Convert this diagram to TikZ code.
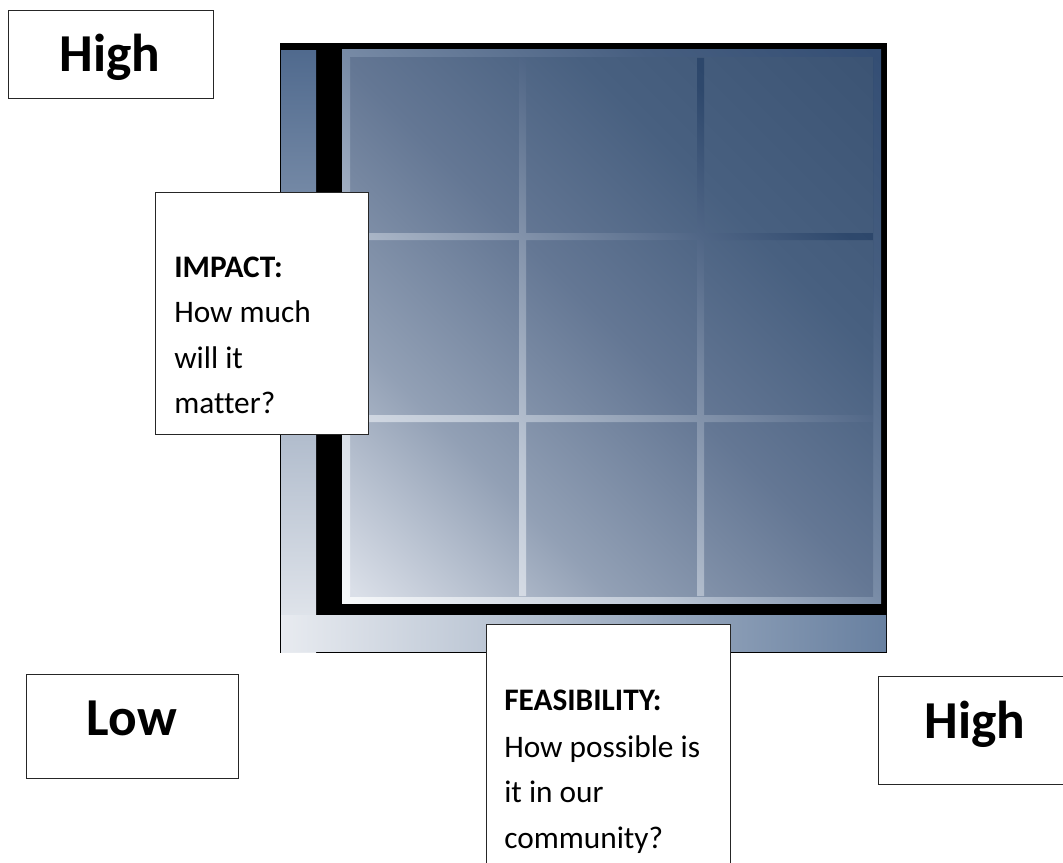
\documentclass[tikz,border=0pt]{standalone}
\usepackage{fontspec}
\setmainfont{Carlito}[Ligatures=NoCommon]
\usetikzlibrary{shadings}
\definecolor{stripTop}{RGB}{80,106,142}
\definecolor{stripLight}{RGB}{232,235,240}
\definecolor{stripRight}{RGB}{104,128,160}
\pgfdeclarehorizontalshading{tileshade}{100bp}{
  color(0bp)=(rgb,255:red,218;green,223;blue,232);
  color(15bp)=(rgb,255:red,218;green,223;blue,232);
  color(32bp)=(rgb,255:red,146;green,160;blue,181);
  color(50bp)=(rgb,255:red,100;green,119;blue,148);
  color(66bp)=(rgb,255:red,72;green,96;blue,128);
  color(85bp)=(rgb,255:red,60;green,84;blue,116);
  color(100bp)=(rgb,255:red,60;green,84;blue,116)}
\pgfdeclarehorizontalshading{bordershade}{100bp}{
  color(0bp)=(rgb,255:red,246;green,248;blue,250);
  color(15bp)=(rgb,255:red,246;green,248;blue,250);
  color(35bp)=(rgb,255:red,190;green,200;blue,214);
  color(50bp)=(rgb,255:red,120;green,139;blue,166);
  color(70bp)=(rgb,255:red,70;green,94;blue,128);
  color(85bp)=(rgb,255:red,52;green,78;blue,116);
  color(100bp)=(rgb,255:red,52;green,78;blue,116)}
\pgfdeclarehorizontalshading{gridshade}{100bp}{
  color(0bp)=(rgb,255:red,242;green,244;blue,248);
  color(15bp)=(rgb,255:red,242;green,244;blue,248);
  color(35bp)=(rgb,255:red,188;green,198;blue,212);
  color(50bp)=(rgb,255:red,130;green,146;blue,170);
  color(62bp)=(rgb,255:red,80;green,102;blue,134);
  color(72bp)=(rgb,255:red,46;green,72;blue,108);
  color(85bp)=(rgb,255:red,40;green,66;blue,102);
  color(100bp)=(rgb,255:red,40;green,66;blue,102)}
\begin{document}
\begin{tikzpicture}[x=0.75pt,y=-0.75pt,
  labelbox/.style={draw=black!85,line width=0.9pt,fill=white,inner sep=0pt,anchor=north west},
  bigtext/.style={font=\bfseries\fontsize{40}{48}\selectfont,inner sep=0pt,anchor=base},
  bodytext/.style={font=\fontsize{23.5}{28}\selectfont,inner sep=0pt,anchor=base west},
  boldbody/.style={bodytext,font=\bfseries\fontsize{23.5}{28}\selectfont}]
\useasboundingbox (0,0) rectangle (1063,863);
\clip (0,0) rectangle (1063,863);
% frame
\fill[black] (280,43) rectangle (887,653);
\shade[top color=stripTop, bottom color=stripLight] (281,51) rectangle (316,652);
\shade[left color=stripLight, right color=stripRight] (281,615) rectangle (886,651);
% inner panel border
\shade[shading=bordershade, shading angle=45] (342,50) rectangle (881,603);
% tiles
\shade[shading=tileshade, shading angle=45] (350,58) rectangle (873,596);
% grid lines, shaded as one path over the whole tile area
\shade[shading=gridshade, shading angle=45]
  (350,58) rectangle (350.01,596)
  (519,58) rectangle (526,596)
  (697,58) rectangle (704,596)
  (350,233) rectangle (873,240)
  (350,415) rectangle (873,422)
  (873,58) rectangle (873.01,596);
% label boxes
\node[labelbox, minimum width=153.75pt, minimum height=66pt] (hightop) at (8,10) {};
\node[bigtext] (hightoptext) at (110,72) {High};
\node[labelbox, minimum width=159.75pt, minimum height=181.5pt] (impact) at (155,192) {};
\node[boldbody] (impact1) at (174,277) {IMPACT:};
\node[bodytext] (impact2) at (174,322) {How much};
\node[bodytext] (impact3) at (174,368) {will it};
\node[bodytext] (impact4) at (174,413) {matter?};
\node[labelbox, minimum width=159pt, minimum height=78pt] (low) at (26,674) {};
\node[bigtext] (lowtext) at (132,735) {Low};
\node[labelbox, minimum width=183pt, minimum height=192pt] (feas) at (486,624) {};
\node[boldbody] (feas1) at (504,710) {FEASIBILITY:};
\node[bodytext] (feas2) at (504,757) {How possible is};
\node[bodytext] (feas3) at (504,802) {it in our};
\node[bodytext] (feas4) at (504,848) {community?};
\node[labelbox, minimum width=147.75pt, minimum height=81pt] (highright) at (878,676) {};
\node[bigtext] (highrighttext) at (975,738) {High};
\end{tikzpicture}
\end{document}
